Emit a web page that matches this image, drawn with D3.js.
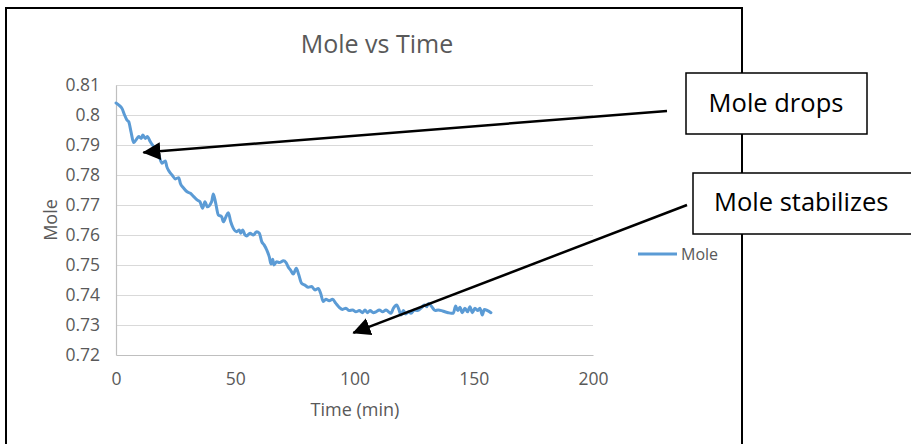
<!DOCTYPE html>
<html>
<head>
<meta charset="utf-8">
<script src="https://cdn.jsdelivr.net/npm/d3@7"></script>
<style>
  html, body { margin: 0; padding: 0; background: #fff; }
  svg { display: block; }
  text { font-family: "Open Sans", "Liberation Sans", sans-serif; }
</style>
</head>
<body>
<svg id="chart" width="911" height="444"></svg>
<script>
// Time in minutes
const timeMin = [0, 1.2, 2.5, 3.6, 4.6, 5.3, 6.3, 7.4, 8.4, 9.5, 10.6, 11.2, 12.3, 13.1, 14.4, 15.8,
  17.9, 19.3, 20.7, 21.3, 22.4, 23.5, 24.9, 26.3, 27.0, 28.4, 29.8, 31.2, 32.6, 34.0, 35.2, 36.3,
  37.3, 38.3, 40.1, 40.8, 41.8, 42.9, 44.3, 45.0, 46.1, 47.1, 48.1, 49.2, 50.6, 51.7, 52.3, 53.1,
  54.1, 54.8, 56.2, 57.6, 59.0, 60.1, 61.1, 62.1, 63.2, 64.3, 65.0, 65.7, 66.2, 67.4, 68.5, 70.2,
  71.3, 72.3, 73.2, 74.3, 75.6, 76.6, 77.8, 79.2, 80.6, 82.0, 83.4, 84.8, 85.8, 86.9, 88.0, 89.4,
  90.8, 92.2, 93.6, 95.0, 96.4, 97.8, 99.2, 100.6, 102.0, 103.4, 104.4, 105.4, 106.5, 107.9, 109.0,
  110.4, 111.8, 113.2, 114.0, 115.3, 116.3, 117.7, 118.6, 119.5, 120.5, 121.5, 122.6, 123.7, 125.1,
  126.5, 127.9, 129.3, 130.3, 131.0, 132.4, 133.8, 135.1, 136.5, 137.9, 139.3, 140.5, 141.4, 142.4,
  143.3, 144.2, 145.2, 146.3, 147.4, 148.4, 149.4, 150.5, 151.6, 152.6, 153.6, 154.4, 155.8, 157.2];

// Mole readings
const moleValues = [0.8040, 0.8033, 0.8022, 0.8000, 0.7983, 0.7978, 0.7944, 0.7908, 0.7917, 0.7928,
  0.7922, 0.7933, 0.7922, 0.7928, 0.7911, 0.7894, 0.7867, 0.7839, 0.7847, 0.7828, 0.7811, 0.7800,
  0.7787, 0.7791, 0.7772, 0.7756, 0.7744, 0.7739, 0.7728, 0.7717, 0.7711, 0.7689, 0.7711, 0.7694,
  0.7711, 0.7737, 0.7706, 0.7667, 0.7661, 0.7644, 0.7661, 0.7674, 0.7644, 0.7622, 0.7611, 0.7617,
  0.7606, 0.7617, 0.7600, 0.7597, 0.7606, 0.7600, 0.7611, 0.7606, 0.7578, 0.7567, 0.7550, 0.7526,
  0.7503, 0.7519, 0.7500, 0.7511, 0.7508, 0.7514, 0.7508, 0.7492, 0.7483, 0.7470, 0.7489, 0.7468,
  0.7439, 0.7433, 0.7426, 0.7428, 0.7417, 0.7422, 0.7406, 0.7378, 0.7386, 0.7381, 0.7386, 0.7372,
  0.7359, 0.7352, 0.7356, 0.7348, 0.7350, 0.7344, 0.7348, 0.7341, 0.7350, 0.7341, 0.7348, 0.7341,
  0.7344, 0.7350, 0.7344, 0.7350, 0.7346, 0.7339, 0.7356, 0.7367, 0.7352, 0.7333, 0.7348, 0.7337,
  0.7344, 0.7339, 0.7350, 0.7348, 0.7356, 0.7367, 0.7361, 0.7372, 0.7361, 0.7348, 0.7350, 0.7348,
  0.7344, 0.7341, 0.7339, 0.7339, 0.7363, 0.7348, 0.7359, 0.7341, 0.7356, 0.7344, 0.7361, 0.7341,
  0.7356, 0.7348, 0.7356, 0.7333, 0.7352, 0.7348, 0.7341];

const xTicks = [0, 50, 100, 150, 200];
const yTicks = [0.72, 0.73, 0.74, 0.75, 0.76, 0.77, 0.78, 0.79, 0.80, 0.81];
const yTickLabels = ["0.72", "0.73", "0.74", "0.75", "0.76", "0.77", "0.78", "0.79", "0.8", "0.81"];

const chartTitle = "Mole vs Time";
const xTitle = "Time (min)";
const yTitle = "Mole";
const seriesName = "Mole";

// Callouts: label and the data point each arrow points at
const callouts = [
  { label: "Mole drops", t: 11.5, v: 0.7875 },
  { label: "Mole stabilizes", t: 99.5, v: 0.7274 }
];

const data = timeMin.map((t, i) => ({ t, v: moleValues[i] }));

const svg = d3.select("#chart");
const textColor = "#595959";
const lineColor = "#5B9BD5";

const x = d3.scaleLinear().domain([0, 200]).range([116, 593]);
const y = d3.scaleLinear().domain([0.72, 0.81]).range([355, 85]);

// Outer chart frame
svg.append("rect")
  .attr("x", 6).attr("y", 8)
  .attr("width", 736).attr("height", 460)
  .attr("fill", "#fff")
  .attr("stroke", "#000").attr("stroke-width", 2);

// Horizontal gridlines
svg.append("g")
  .selectAll("line")
  .data(yTicks.slice(1))
  .join("line")
  .attr("x1", x(0)).attr("x2", x(200))
  .attr("y1", d => Math.round(y(d)) + 0.5).attr("y2", d => Math.round(y(d)) + 0.5)
  .attr("stroke", "#D9D9D9").attr("stroke-width", 1);

// Y axis
const yAxis = svg.append("g")
  .attr("transform", `translate(${x(0)},0)`)
  .call(d3.axisLeft(y).tickValues(yTicks).tickSize(0).tickPadding(16)
    .tickFormat((d, i) => yTickLabels[i]));
yAxis.select(".domain").attr("stroke", "#BFBFBF").attr("stroke-width", 1.2);
yAxis.selectAll("text")
  .attr("fill", textColor)
  .style("font-size", "17.5px");

// X axis
const xAxis = svg.append("g")
  .attr("transform", `translate(0,${y(0.72)})`)
  .call(d3.axisBottom(x).tickValues(xTicks).tickSize(0).tickPadding(18)
    .tickFormat(d3.format("d")));
xAxis.select(".domain").attr("stroke", "#BFBFBF").attr("stroke-width", 1.2);
xAxis.selectAll("text")
  .attr("fill", textColor)
  .style("font-size", "17.5px");

// Titles
svg.append("text")
  .attr("x", 377).attr("y", 53)
  .attr("text-anchor", "middle")
  .attr("fill", textColor)
  .style("font-size", "25px")
  .text(chartTitle);

svg.append("text")
  .attr("x", 355).attr("y", 416)
  .attr("text-anchor", "middle")
  .attr("fill", textColor)
  .style("font-size", "18px")
  .text(xTitle);

svg.append("text")
  .attr("transform", "translate(57,220) rotate(-90)")
  .attr("text-anchor", "middle")
  .attr("fill", textColor)
  .style("font-size", "18px")
  .text(yTitle);

// Series line
svg.append("path")
  .datum(data)
  .attr("fill", "none")
  .attr("stroke", lineColor)
  .attr("stroke-width", 3)
  .attr("stroke-linejoin", "round")
  .attr("stroke-linecap", "round")
  .attr("d", d3.line().curve(d3.curveMonotoneX).x(d => x(d.t)).y(d => y(d.v)));

// Legend
const legend = svg.append("g").attr("transform", "translate(638,254)");
legend.append("line")
  .attr("x1", 0).attr("x2", 39).attr("y1", 0).attr("y2", 0)
  .attr("stroke", lineColor).attr("stroke-width", 3);
legend.append("text")
  .attr("x", 43).attr("y", 6)
  .attr("fill", textColor)
  .style("font-size", "16px")
  .text(seriesName);

// Callout boxes
const boxes = [
  { x: 686, y: 73, w: 181, h: 61, tx: 776, ty: 112, anchor: "middle", ax: 667, ay: 111 },
  { x: 693, y: 173, w: 240, h: 61, tx: 714, ty: 211, anchor: "start", ax: 687, ay: 205 }
];

svg.append("defs").append("marker")
  .attr("id", "arrowhead")
  .attr("viewBox", "0 0 18 18")
  .attr("refX", 17).attr("refY", 9)
  .attr("markerWidth", 18).attr("markerHeight", 18)
  .attr("markerUnits", "userSpaceOnUse")
  .attr("orient", "auto")
  .append("path")
  .attr("d", "M0,0 L18,9 L0,18 Z")
  .attr("fill", "#000");

callouts.forEach((c, i) => {
  const b = boxes[i];
  svg.append("line")
    .attr("x1", b.ax).attr("y1", b.ay)
    .attr("x2", x(c.t)).attr("y2", y(c.v))
    .attr("stroke", "#000").attr("stroke-width", 2.5)
    .attr("marker-end", "url(#arrowhead)");
  svg.append("rect")
    .attr("x", b.x).attr("y", b.y).attr("width", b.w).attr("height", b.h)
    .attr("fill", "#fff").attr("stroke", "#000").attr("stroke-width", 1.5);
  svg.append("text")
    .attr("x", b.tx).attr("y", b.ty)
    .attr("text-anchor", b.anchor)
    .attr("fill", "#000")
    .style("font-size", "25.5px")
    .text(c.label);
});
</script>
</body>
</html>
